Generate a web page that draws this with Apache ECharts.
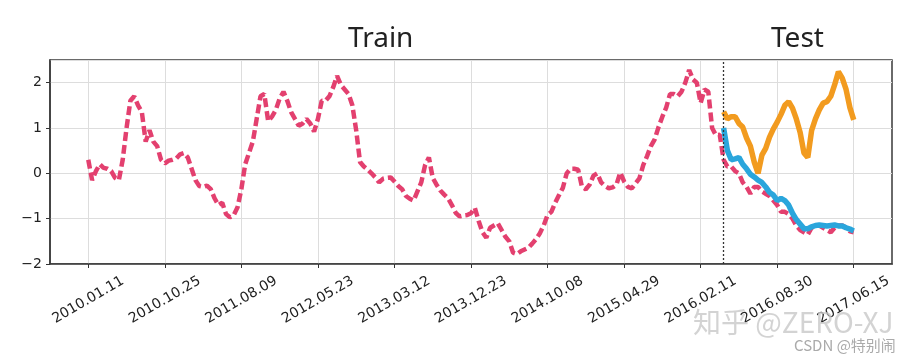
<!DOCTYPE html>
<html><head><meta charset="utf-8">
<script src="https://cdn.jsdelivr.net/npm/echarts@6/dist/echarts.min.js"></script>
<style>html,body{margin:0;padding:0;background:#fff}#c{width:916px;height:363px}</style>
</head><body><div id="c"></div>
<script>
// Tick labels (one every 20 positions, starting at position 10)
const tickLabels = ['2010.01.11','2010.10.25','2011.08.09','2012.05.23','2013.03.12','2013.12.23','2014.10.08','2015.04.29','2016.02.11','2016.08.30','2017.06.15'];
const yTicks = [-2,-1,0,1,2];
// Series values, positions 10..210 (train/true line, pink dashed)
const actual = [
 0.3,-0.15,0.05,0.2,0.12,0.1,0.05,-0.1,-0.15,0.3,
 1.0,1.6,1.7,1.5,1.35,0.7,0.95,0.7,0.6,0.3,
 0.22,0.28,0.3,0.33,0.42,0.45,0.35,0.1,-0.15,-0.28,
 -0.3,-0.27,-0.35,-0.55,-0.7,-0.65,-0.9,-0.97,-0.92,-0.75,
 -0.35,0.2,0.45,0.7,1.2,1.7,1.75,1.15,1.25,1.4,
 1.65,1.8,1.6,1.35,1.2,1.05,1.1,1.2,1.1,0.92,
 1.2,1.6,1.6,1.7,1.9,2.15,1.95,1.85,1.75,1.5,
 0.95,0.25,0.15,0.08,0.0,-0.09,-0.2,-0.12,-0.1,-0.09,
 -0.18,-0.28,-0.35,-0.5,-0.56,-0.6,-0.4,-0.2,0.18,0.35,
 -0.1,-0.25,-0.38,-0.47,-0.55,-0.7,-0.87,-0.95,-0.93,-0.92,
 -0.88,-0.76,-1.05,-1.3,-1.42,-1.2,-1.15,-1.1,-1.25,-1.4,
 -1.5,-1.75,-1.78,-1.72,-1.68,-1.64,-1.55,-1.45,-1.32,-1.15,
 -0.92,-0.85,-0.65,-0.48,-0.32,0.0,0.1,0.1,0.08,-0.3,
 -0.35,-0.25,-0.05,0.0,-0.2,-0.28,-0.33,-0.31,-0.25,0.02,
 -0.18,-0.3,-0.33,-0.22,-0.11,0.18,0.38,0.6,0.75,1.02,
 1.25,1.45,1.75,1.75,1.7,1.8,2.0,2.28,2.07,2.0,
 1.55,1.85,1.8,1.0,0.84,0.85,0.3,0.15,0.15,0.05,
 0.0,-0.2,-0.3,-0.45,-0.3,-0.3,-0.4,-0.45,-0.5,-0.6,
 -0.7,-0.85,-0.85,-0.9,-1.0,-1.15,-1.25,-1.3,-1.35,-1.2,
 -1.15,-1.15,-1.2,-1.25,-1.3,-1.2,-1.15,-1.15,-1.2,-1.28,
 -1.3
];
// Test predictions, positions 176..210
const predBlue = [
 1.0,0.5,0.3,0.32,0.35,0.2,0.1,-0.02,-0.08,-0.15,
 -0.2,-0.3,-0.42,-0.48,-0.6,-0.55,-0.6,-0.7,-0.88,-1.02,
 -1.12,-1.22,-1.22,-1.18,-1.15,-1.14,-1.15,-1.16,-1.15,-1.14,
 -1.16,-1.16,-1.2,-1.23,-1.27
];
const predOrange = [
 1.36,1.2,1.25,1.25,1.1,1.02,0.78,0.6,0.25,0.0,
 0.4,0.55,0.8,0.98,1.13,1.3,1.5,1.58,1.44,1.2,
 0.9,0.45,0.35,0.95,1.2,1.4,1.55,1.58,1.7,1.95,
 2.24,2.1,1.85,1.45,1.18
];
const N = 221, startActual = 10, startTest = 176;

const cats = [];
for (let i = 0; i < N; i++) cats.push(String(i));
function place(arr, start) {
  const out = new Array(N).fill(null);
  arr.forEach((v, k) => { out[start + k] = v; });
  return out;
}
const isTick = (i) => i % 20 === 10;

const chart = echarts.init(document.getElementById('c'), null, {renderer: 'canvas'});
chart.setOption({
  animation: false,
  backgroundColor: '#ffffff',
  grid: {left: 50, right: 24, top: 60, bottom: 99, show: true, borderColor: '#3a3a3a', borderWidth: 1.5, backgroundColor: 'transparent'},
  xAxis: {
    type: 'category', data: cats, boundaryGap: false,
    axisLine: {show: true, onZero: false, lineStyle: {color: '#3a3a3a', width: 1.5}},
    axisTick: {show: true, interval: isTick, length: 4, lineStyle: {color: '#333'}},
    splitLine: {show: true, interval: isTick, lineStyle: {color: '#dddddd', width: 1}},
    axisLabel: {
      interval: isTick, rotate: 30, align: 'center', verticalAlign: 'middle', margin: 36,
      fontFamily: 'DejaVu Sans', fontSize: 14, color: '#222',
      formatter: (v, idx) => tickLabels[(Number(v) - 10) / 20] || ''
    }
  },
  yAxis: {
    type: 'value', min: -2, max: 2.5, interval: 1,
    axisLine: {show: true, lineStyle: {color: '#3a3a3a', width: 1.5}},
    axisTick: {show: true, length: 4, lineStyle: {color: '#333'}},
    splitLine: {show: true, lineStyle: {color: '#dddddd', width: 1}},
    axisLabel: {
      fontFamily: 'DejaVu Sans', fontSize: 14, color: '#222', margin: 8, showMaxLabel: false,
      formatter: (v) => yTicks.includes(v) ? String(v).replace('-', '\u2212') : ''
    }
  },
  series: [
    {type: 'line', data: place(actual, startActual), showSymbol: false, symbol: 'none', z: 2,
     lineStyle: {color: '#E3406F', width: 4.5, type: [9, 4]},
     markLine: {silent: true, symbol: 'none', label: {show: false},
       lineStyle: {color: '#333', width: 1.3, type: [2, 2]},
       data: [{xAxis: startTest}]}},
    {type: 'line', data: place(predOrange, startTest), showSymbol: false, symbol: 'none', z: 3,
     lineStyle: {color: '#F29B1F', width: 5.5}},
    {type: 'line', data: place(predBlue, startTest), showSymbol: false, symbol: 'none', z: 4,
     lineStyle: {color: '#2AA6DC', width: 5.5}}
  ],
  graphic: [
    {type: 'text', left: 382 - 34, top: 25, style: {text: 'Train', font: '28px "Noto Sans"', fill: '#222'}},
    {type: 'text', left: 798 - 27, top: 25, style: {text: 'Test', font: '28px "Noto Sans"', fill: '#222'}},
    {type: 'text', left: 693, top: 308, z: 100, style: {text: '知乎 @ZERO-XJ', font: '28px "Noto Sans CJK SC"', fill: 'rgba(200,200,200,0.8)'}},
    {type: 'text', left: 794, top: 338, z: 100, style: {text: 'CSDN @特别闹', font: '15px "Noto Sans CJK SC"', fill: '#aaaaaa'}}
  ]
});
</script></body></html>
